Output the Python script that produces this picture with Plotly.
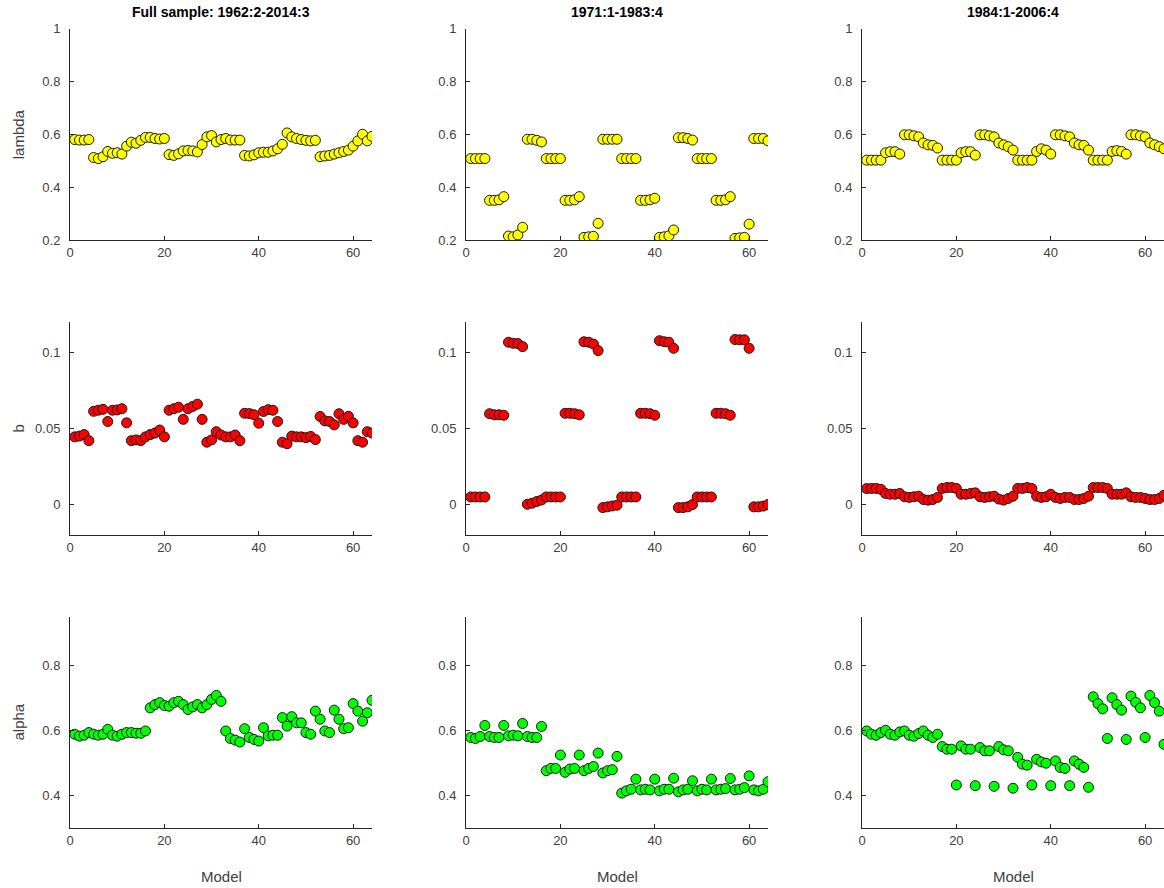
import plotly.graph_objects as go

models = list(range(1, 65))

# ---- lambda ----
lambda_full = [0.580, 0.578, 0.578, 0.580,
               0.512, 0.508, 0.515, 0.535, 0.528, 0.530, 0.525, 0.555, 0.570, 0.566, 0.577, 0.588,
               0.588, 0.584, 0.582, 0.584,
               0.523, 0.520, 0.526, 0.537, 0.539, 0.537, 0.533, 0.561, 0.590, 0.595, 0.571, 0.580,
               0.584, 0.578, 0.578, 0.578,
               0.520, 0.518, 0.522, 0.530, 0.532, 0.532, 0.537, 0.545, 0.562, 0.605, 0.590, 0.584,
               0.580, 0.577, 0.575, 0.577,
               0.515, 0.518, 0.520, 0.525, 0.530, 0.535, 0.540, 0.555, 0.575, 0.600, 0.575, 0.592]
lambda_7183 = [0.508, 0.508, 0.508, 0.508, 0.350, 0.350, 0.352, 0.364, 0.215, 0.212, 0.219, 0.248,
               0.581, 0.581, 0.577, 0.571, 0.508, 0.508, 0.508, 0.508, 0.350, 0.350, 0.352, 0.364,
               0.210, 0.212, 0.214, 0.263, 0.581, 0.581, 0.581, 0.581, 0.508, 0.508, 0.508, 0.508,
               0.350, 0.350, 0.352, 0.358, 0.210, 0.212, 0.216, 0.238, 0.587, 0.587, 0.584, 0.578,
               0.508, 0.508, 0.508, 0.508, 0.350, 0.350, 0.352, 0.364, 0.206, 0.208, 0.210, 0.260,
               0.584, 0.584, 0.584, 0.575]
lambda_8406 = [0.502, 0.502, 0.502, 0.502, 0.530, 0.534, 0.534, 0.525, 0.598, 0.598, 0.594, 0.590,
               0.567, 0.560, 0.558, 0.548, 0.502, 0.502, 0.502, 0.502, 0.530, 0.534, 0.534, 0.521,
               0.598, 0.598, 0.594, 0.590, 0.567, 0.560, 0.553, 0.540, 0.502, 0.502, 0.502, 0.502,
               0.535, 0.545, 0.540, 0.525, 0.598, 0.598, 0.594, 0.590, 0.567, 0.560, 0.558, 0.540,
               0.502, 0.502, 0.502, 0.502, 0.535, 0.538, 0.535, 0.525, 0.598, 0.598, 0.594, 0.590,
               0.567, 0.560, 0.553, 0.545]

# ---- b ----
b_full = [0.0445, 0.0450, 0.0460, 0.0420, 0.0613, 0.0620, 0.0626, 0.0546,
          0.0620, 0.0622, 0.0630, 0.0537, 0.0420, 0.0425, 0.0420, 0.0445,
          0.0460, 0.0470, 0.0490, 0.0445, 0.0620, 0.0630, 0.0640, 0.0560,
          0.0630, 0.0645, 0.0660, 0.0560, 0.0410, 0.0425, 0.0479, 0.0457,
          0.0445, 0.0445, 0.0457, 0.0420, 0.0600, 0.0598, 0.0590, 0.0535,
          0.0612, 0.0624, 0.0620, 0.0546, 0.0410, 0.0400, 0.0450, 0.0445,
          0.0445, 0.0440, 0.0448, 0.0427, 0.0579, 0.0550, 0.0546, 0.0524,
          0.0597, 0.0560, 0.0580, 0.0537, 0.0420, 0.0410, 0.0479, 0.0470]
b_7183 = [0.005, 0.005, 0.005, 0.005, 0.0597, 0.0590, 0.0590, 0.0587,
          0.1067, 0.1060, 0.1058, 0.1038, 0.0002, 0.0009, 0.0020, 0.0030,
          0.005, 0.005, 0.005, 0.005, 0.0600, 0.0600, 0.0597, 0.0590,
          0.1070, 0.1067, 0.1055, 0.1012, -0.0020, -0.0015, -0.0009, -0.0004,
          0.005, 0.005, 0.005, 0.005, 0.0600, 0.0600, 0.0597, 0.0587,
          0.1077, 0.1070, 0.1067, 0.1027, -0.0020, -0.0020, -0.0015, 0.0000,
          0.005, 0.005, 0.005, 0.005, 0.0600, 0.0600, 0.0597, 0.0587,
          0.1085, 0.1083, 0.1083, 0.1027, -0.0015, -0.0015, -0.0010, 0.0000]
b_8406 = [0.0105, 0.0106, 0.0106, 0.0100, 0.0073, 0.0068, 0.0068, 0.0073,
          0.0051, 0.0047, 0.0051, 0.0055, 0.0033, 0.0029, 0.0033, 0.0047,
          0.0106, 0.0112, 0.0112, 0.0106, 0.0068, 0.0068, 0.0073, 0.0077,
          0.0051, 0.0047, 0.0051, 0.0055, 0.0036, 0.0029, 0.0040, 0.0055,
          0.0106, 0.0106, 0.0112, 0.0106, 0.0055, 0.0047, 0.0051, 0.0068,
          0.0047, 0.0040, 0.0047, 0.0047, 0.0033, 0.0033, 0.0040, 0.0055,
          0.0112, 0.0112, 0.0112, 0.0106, 0.0068, 0.0068, 0.0068, 0.0077,
          0.0051, 0.0047, 0.0047, 0.0040, 0.0033, 0.0033, 0.0040, 0.0062]

# ---- alpha ----
alpha_full = [0.589, 0.583, 0.586, 0.594, 0.589, 0.586, 0.589, 0.604,
              0.586, 0.583, 0.589, 0.594, 0.594, 0.592, 0.592, 0.599,
              0.670, 0.680, 0.686, 0.677, 0.675, 0.686, 0.690, 0.680,
              0.665, 0.673, 0.680, 0.670, 0.680, 0.696, 0.708, 0.690,
              0.599, 0.576, 0.571, 0.565, 0.606, 0.579, 0.573, 0.568,
              0.609, 0.584, 0.586, 0.586, 0.640, 0.614, 0.643, 0.624,
              0.624, 0.594, 0.589, 0.660, 0.635, 0.599, 0.594, 0.663,
              0.635, 0.606, 0.609, 0.683, 0.660, 0.629, 0.655, 0.693]
alpha_7183 = [0.579, 0.576, 0.582, 0.616, 0.582, 0.579, 0.579, 0.616,
              0.584, 0.586, 0.584, 0.622, 0.582, 0.579, 0.579, 0.613,
              0.477, 0.484, 0.484, 0.525, 0.472, 0.482, 0.484, 0.525,
              0.477, 0.484, 0.490, 0.531, 0.470, 0.477, 0.480, 0.521,
              0.408, 0.415, 0.420, 0.451, 0.418, 0.420, 0.418, 0.451,
              0.415, 0.420, 0.420, 0.454, 0.412, 0.418, 0.420, 0.446,
              0.415, 0.420, 0.418, 0.451, 0.418, 0.420, 0.422, 0.453,
              0.418, 0.420, 0.425, 0.461, 0.418, 0.415, 0.420, 0.443]
alpha_8406 = [0.599, 0.589, 0.586, 0.594, 0.601, 0.589, 0.586, 0.596,
              0.599, 0.586, 0.583, 0.591, 0.599, 0.586, 0.579, 0.589,
              0.551, 0.543, 0.543, 0.433, 0.553, 0.543, 0.543, 0.431,
              0.548, 0.538, 0.538, 0.429, 0.551, 0.541, 0.538, 0.423,
              0.518, 0.497, 0.494, 0.433, 0.512, 0.504, 0.500, 0.431,
              0.507, 0.487, 0.484, 0.431, 0.507, 0.497, 0.487, 0.426,
              0.704, 0.683, 0.667, 0.576, 0.701, 0.680, 0.663, 0.573,
              0.706, 0.687, 0.670, 0.579, 0.708, 0.686, 0.660, 0.558]

col_titles = ["Full sample: 1962:2-2014:3", "1971:1-1983:4", "1984:1-2006:4"]
row_labels = ["lambda", "b", "alpha"]
row_colors = ["#FFFF00", "#FF0000", "#00FF00"]
row_data = [[lambda_full, lambda_7183, lambda_8406],
            [b_full, b_7183, b_8406],
            [alpha_full, alpha_7183, alpha_8406]]
row_ranges = [[0.2, 1.0], [-0.02, 0.12], [0.3, 0.95]]
row_ticks = [[0.2, 0.4, 0.6, 0.8, 1.0], [0, 0.05, 0.1], [0.4, 0.6, 0.8]]
row_ticktext = [["0.2", "0.4", "0.6", "0.8", "1"], ["0", "0.05", "0.1"], ["0.4", "0.6", "0.8"]]
x_ticks = [0, 20, 40, 60]

W, H = 1164, 888
col_px = [(70, 372), (466, 768), (862, 1164)]
row_px = [(28.5, 240), (322, 535), (616.7, 828.3)]

FONT = "Liberation Sans, Arial, Helvetica, sans-serif"
AXC = "#262626"
TXC = "#404040"

fig = go.Figure()
layout = dict(template="none", width=W, height=H, margin=dict(l=0, r=0, t=0, b=0, pad=0),
              autosize=False,
              paper_bgcolor="white", plot_bgcolor="white", showlegend=False,
              font=dict(family=FONT, size=13, color=TXC))
annotations = []

for r in range(3):
    for c in range(3):
        idx = r * 3 + c + 1
        xa = "x" if idx == 1 else f"x{idx}"
        ya = "y" if idx == 1 else f"y{idx}"
        fig.add_trace(go.Scatter(
            x=models, y=row_data[r][c], mode="markers", xaxis=xa, yaxis=ya,
            marker=dict(symbol="circle", size=10, color=row_colors[r],
                        line=dict(color="#1a1a1a", width=1)),
            hoverinfo="x+y"))
        x0, x1 = col_px[c]
        y0, y1 = row_px[r]
        xkey = "xaxis" if idx == 1 else f"xaxis{idx}"
        ykey = "yaxis" if idx == 1 else f"yaxis{idx}"
        layout[xkey] = dict(domain=[x0 / W, min(x1 / W, 1.0)], anchor=ya, range=[0, 64],
                            tickvals=x_ticks, ticks="inside", ticklen=4, tickcolor=AXC,
                            showline=True, linecolor=AXC, linewidth=1,
                            showgrid=False, zeroline=False, automargin=False,
                            tickfont=dict(family=FONT, size=13, color=TXC))
        layout[ykey] = dict(domain=[1 - y1 / H, 1 - y0 / H], anchor=xa, range=row_ranges[r],
                            tickvals=row_ticks[r], ticktext=row_ticktext[r],
                            ticks="inside", ticklen=4, tickcolor=AXC,
                            showline=True, linecolor=AXC, linewidth=1,
                            showgrid=False, zeroline=False, automargin=False,
                            ticklabelstandoff=6,
                            tickfont=dict(family=FONT, size=13, color=TXC))

# column titles
for c in range(3):
    cx = (col_px[c][0] + col_px[c][1]) / 2
    annotations.append(dict(text=f"<b>{col_titles[c]}</b>", x=cx / W, y=1 - 12 / H,
                            xref="paper", yref="paper", showarrow=False,
                            font=dict(family=FONT, size=14, color="#000000"),
                            xanchor="center", yanchor="middle"))
    annotations.append(dict(text="Model", x=cx / W, y=1 - 876 / H,
                            xref="paper", yref="paper", showarrow=False,
                            font=dict(family=FONT, size=15, color=TXC),
                            xanchor="center", yanchor="middle"))
# row labels
for r in range(3):
    cy = (row_px[r][0] + row_px[r][1]) / 2
    annotations.append(dict(text=row_labels[r], x=18 / W, y=1 - cy / H,
                            xref="paper", yref="paper", showarrow=False, textangle=-90,
                            font=dict(family=FONT, size=15, color=TXC),
                            xanchor="center", yanchor="middle"))

layout["annotations"] = annotations
fig.update_layout(**layout)
fig.write_html("out.html", config={"responsive": False, "displayModeBar": False},
               post_script="document.body.style.margin='0';document.body.style.overflow='hidden';")
